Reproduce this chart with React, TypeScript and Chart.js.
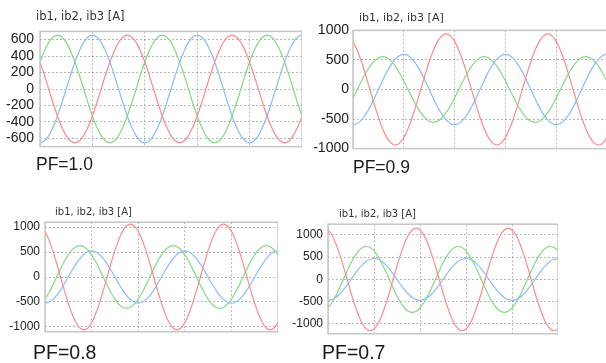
import React, { useEffect, useRef } from "react";
import { Chart, registerables } from "chart.js";

Chart.register(...registerables);

// Sample positions along the waveform (electrical degrees)
const T_DEG = [0,15,30,45,60,75,90,105,120,135,150,165,180,195,210,225,240,255,270,285,300,315,330,345,360,375,390,405,420,435,450,465,480,495,510,525,540,555,570,585,600,615,630,645,660,675,690,705,720,735,750,765,780,795,810,825,840,855,870,885,900];
const X_GRID = [0,180,360,540,720,900];

const Y_TICKS_PF10 = [-600,-400,-200,0,200,400,600];
const Y_TICKS_KA = [-1000,-500,0,500,1000];

// PF = 1.0
const PF10_RED = [328,170,0,-170,-328,-463,-567,-633,-655,-633,-567,-463,-328,-170,0,170,328,463,567,633,
655,633,567,463,328,170,0,-170,-328,-463,-567,-633,-655,-633,-567,-463,-328,-170,0,170,328,463,567,633,
655,633,567,463,328,170,0,-170,-328,-463,-567,-633,-655,-633,-567,-463,-328];
const PF10_GREEN = [328,463,567,633,
655,633,567,463,328,170,0,-170,-328,-463,-567,-633,-655,-633,-567,-463,-328,-170,0,170,328,463,567,633,
655,633,567,463,328,170,0,-170,-328,-463,-567,-633,-655,-633,-567,-463,-328,-170,0,170,328,463,567,633,
655,633,567,463,328,170,0,-170,-328];
const PF10_BLUE = [-655,-633,-567,-463,-328,-170,0,170,328,463,567,633,
655,633,567,463,328,170,0,-170,-328,-463,-567,-633,-655,-633,-567,-463,-328,-170,0,170,328,463,567,633,
655,633,567,463,328,170,0,-170,-328,-463,-567,-633,-655,-633,-567,-463,-328,-170,0,170,328,463,567,633,
655];

// PF = 0.9
const PF09_RED = [814,665,470,243,0,-243,-470,-665,-814,-908,-940,-908,-814,-665,-470,-243,0,243,470,665,814,908,
940,908,814,665,470,243,0,-243,-470,-665,-814,-908,-940,-908,-814,-665,-470,-243,0,243,470,665,814,908,
940,908,814,665,470,243,0,-243,-470,-665,-814,-908,-940,-908,-814];
const PF09_GREEN = [-144,0,144,278,392,481,536,
555,536,481,392,278,144,0,-144,-278,-392,-481,-536,-555,-536,-481,-392,-278,-144,0,144,278,392,481,536,
555,536,481,392,278,144,0,-144,-278,-392,-481,-536,-555,-536,-481,-392,-278,-144,0,144,278,392,481,536,
555,536,481,392,278,144];
const PF09_BLUE = [-595,-575,-515,-421,-298,-154,0,154,298,421,515,575,
595,575,515,421,298,154,0,-154,-298,-421,-515,-575,-595,-575,-515,-421,-298,-154,0,154,298,421,515,575,
595,575,515,421,298,154,0,-154,-298,-421,-515,-575,-595,-575,-515,-421,-298,-154,0,154,298,421,515,575,
595];

// PF = 0.8
const PF08_RED = [918,749,530,275,0,-275,-530,-749,-918,-1024,-1060,-1024,-918,-749,-530,-275,0,275,530,749,918,1024,
1060,1024,918,749,530,275,0,-275,-530,-749,-918,-1024,-1060,-1024,-918,-749,-530,-275,0,275,530,749,918,1024,
1060,1024,918,749,530,275,0,-275,-530,-749,-918,-1024,-1060,-1024,-918];
const PF08_GREEN = [-445,-315,-163,0,163,315,445,546,609,
630,609,546,445,315,163,0,-163,-315,-445,-546,-609,-630,-609,-546,-445,-315,-163,0,163,315,445,546,609,
630,609,546,445,315,163,0,-163,-315,-445,-546,-609,-630,-609,-546,-445,-315,-163,0,163,315,445,546,609,
630,609,546,445];
const PF08_BLUE = [-525,-507,-455,-371,-263,-136,0,136,263,371,455,507,
525,507,455,371,263,136,0,-136,-263,-371,-455,-507,-525,-507,-455,-371,-263,-136,0,136,263,371,455,507,
525,507,455,371,263,136,0,-136,-263,-371,-455,-507,-525,-507,-455,-371,-263,-136,0,136,263,371,455,507,
525];

// PF = 0.7
const PF07_RED = [1111,996,813,575,298,0,-298,-575,-813,-996,-1111,-1150,-1111,-996,-813,-575,-298,0,298,575,813,996,1111,
1150,1111,996,813,575,298,0,-298,-575,-813,-996,-1111,-1150,-1111,-996,-813,-575,-298,0,298,575,813,996,1111,
1150,1111,996,813,575,298,0,-298,-575,-813,-996,-1111,-1150,-1111];
const PF07_GREEN = [-641,-523,-370,-192,0,192,370,523,641,715,
740,715,641,523,370,192,0,-192,-370,-523,-641,-715,-740,-715,-641,-523,-370,-192,0,192,370,523,641,715,
740,715,641,523,370,192,0,-192,-370,-523,-641,-715,-740,-715,-641,-523,-370,-192,0,192,370,523,641,715,
740,715,641];
const PF07_BLUE = [-470,-454,-407,-332,-235,-122,0,122,235,332,407,454,
470,454,407,332,235,122,0,-122,-235,-332,-407,-454,-470,-454,-407,-332,-235,-122,0,122,235,332,407,454,
470,454,407,332,235,122,0,-122,-235,-332,-407,-454,-470,-454,-407,-332,-235,-122,0,122,235,332,407,454,
470];

const TITLE = "ib1, ib2, ib3 [A]";

const RED = "#ff8a8a";
const GREEN = "#86d886";
const BLUE = "#8abcff";
const GRID = "rgba(0,0,0,0.28)";
const FRAME = "#c6c6c6";
const TICK_FONT = "'Liberation Sans', Arial, sans-serif";
const TITLE_FONT = "'DejaVu Sans', Verdana, sans-serif";
const PADV = 10;

const framePlugin = {
  id: "frame",
  afterDatasetsDraw(chart: any) {
    const { ctx, chartArea: a } = chart;
    ctx.save();
    ctx.strokeStyle = FRAME;
    ctx.lineWidth = 1.5;
    ctx.strokeRect(a.left, a.top, a.right - a.left, a.bottom - a.top);
    ctx.restore();
  },
};

type PanelCfg = {
  plotLeft: number;
  plotTop: number;
  plotWidth: number;
  plotHeight: number;
  axisWidth: number;
  tickGap: number;
  tickSize: number;
  yMin: number;
  yMax: number;
  yTicks: number[];
  red: number[];
  green: number[];
  blue: number[];
  title: { left: number; cy: number; size: number };
  pf: { text: string; left: number; cy: number; size: number };
};

function Panel({ cfg }: { cfg: PanelCfg }) {
  const ref = useRef<HTMLCanvasElement | null>(null);
  const w = cfg.axisWidth + cfg.plotWidth;
  const h = cfg.plotHeight + 2 * PADV;
  useEffect(() => {
    if (!ref.current) return;
    const mk = (data: number[], color: string) => ({
      data,
      borderColor: color,
      backgroundColor: color,
      borderWidth: 1.2,
      pointRadius: 0,
      fill: false,
      cubicInterpolationMode: "monotone" as const,
    });
    const chart = new Chart(ref.current, {
      type: "line",
      data: {
        labels: T_DEG,
        datasets: [mk(cfg.red, RED), mk(cfg.green, GREEN), mk(cfg.blue, BLUE)],
      },
      options: {
        animation: false,
        responsive: false,
        maintainAspectRatio: false,
        events: [],
        layout: { padding: { top: PADV, bottom: PADV, left: 0, right: 0 } },
        plugins: { legend: { display: false }, tooltip: { enabled: false }, title: { display: false } },
        scales: {
          x: {
            type: "linear",
            min: 0,
            max: 900,
            afterBuildTicks: (axis: any) => {
              axis.ticks = X_GRID.map((v) => ({ value: v }));
            },
            afterFit: (s: any) => {
              s.height = 0;
            },
            ticks: { display: false },
            grid: { drawTicks: false, color: GRID, lineWidth: 1 },
            border: { display: false, dash: [2, 2] },
          },
          y: {
            type: "linear",
            min: cfg.yMin,
            max: cfg.yMax,
            afterBuildTicks: (axis: any) => {
              axis.ticks = cfg.yTicks.map((v) => ({ value: v }));
            },
            afterFit: (s: any) => {
              s.width = cfg.axisWidth;
            },
            ticks: {
              color: "#222",
              padding: cfg.tickGap,
              font: { family: TICK_FONT, size: cfg.tickSize },
              callback: (v: any) => String(v),
            },
            grid: { drawTicks: false, color: GRID, lineWidth: 1 },
            border: { display: false, dash: [2, 2] },
          },
        },
      } as any,
      plugins: [framePlugin],
    });
    return () => chart.destroy();
  }, []);
  return (
    <>
      <canvas
        ref={ref}
        width={w}
        height={h}
        style={{
          position: "absolute",
          left: cfg.plotLeft - cfg.axisWidth,
          top: cfg.plotTop - PADV,
          width: w,
          height: h,
        }}
      />
      <div
        style={{
          position: "absolute",
          left: cfg.title.left,
          top: cfg.title.cy - cfg.title.size / 2 - 1,
          fontFamily: TITLE_FONT,
          fontSize: cfg.title.size,
          lineHeight: `${cfg.title.size + 2}px`,
          color: "#333",
          whiteSpace: "nowrap",
        }}
      >
        {TITLE}
      </div>
      <div
        style={{
          position: "absolute",
          left: cfg.pf.left,
          top: cfg.pf.cy - cfg.pf.size / 2 - 1,
          fontFamily: TICK_FONT,
          fontSize: cfg.pf.size,
          lineHeight: `${cfg.pf.size + 2}px`,
          color: "#1a1a1a",
          whiteSpace: "nowrap",
        }}
      >
        {cfg.pf.text}
      </div>
    </>
  );
}

const PANELS: PanelCfg[] = [
  {
    plotLeft: 40, plotTop: 27, plotWidth: 262, plotHeight: 124, axisWidth: 40, tickGap: 6, tickSize: 14,
    yMin: -700, yMax: 700, yTicks: Y_TICKS_PF10,
    red: PF10_RED, green: PF10_GREEN, blue: PF10_BLUE,
    title: { left: 36, cy: 17, size: 11.5 },
    pf: { text: "PF=1.0", left: 36, cy: 165, size: 17.5 },
  },
  {
    plotLeft: 353, plotTop: 28, plotWidth: 254, plotHeight: 123, axisWidth: 45, tickGap: 4, tickSize: 14,
    yMin: -1000, yMax: 1000, yTicks: Y_TICKS_KA,
    red: PF09_RED, green: PF09_GREEN, blue: PF09_BLUE,
    title: { left: 359, cy: 17, size: 11 },
    pf: { text: "PF=0.9", left: 353, cy: 168, size: 17.5 },
  },
  {
    plotLeft: 45, plotTop: 220, plotWidth: 233, plotHeight: 114, axisWidth: 40, tickGap: 5, tickSize: 12,
    yMin: -1100, yMax: 1100, yTicks: Y_TICKS_KA,
    red: PF08_RED, green: PF08_GREEN, blue: PF08_BLUE,
    title: { left: 55, cy: 211.5, size: 10 },
    pf: { text: "PF=0.8", left: 33, cy: 353, size: 19.5 },
  },
  {
    plotLeft: 328, plotTop: 222, plotWidth: 230, plotHeight: 114, axisWidth: 40, tickGap: 5, tickSize: 12,
    yMin: -1220, yMax: 1240, yTicks: Y_TICKS_KA,
    red: PF07_RED, green: PF07_GREEN, blue: PF07_BLUE,
    title: { left: 339, cy: 214, size: 10 },
    pf: { text: "PF=0.7", left: 322, cy: 353, size: 19.5 },
  },
];

export default function App() {
  return (
    <div
      style={{
        position: "fixed",
        left: 0,
        top: 0,
        width: 606,
        height: 363,
        overflow: "hidden",
        background: "#fff",
      }}
    >
      {PANELS.map((p, i) => (
        <Panel key={i} cfg={p} />
      ))}
    </div>
  );
}
